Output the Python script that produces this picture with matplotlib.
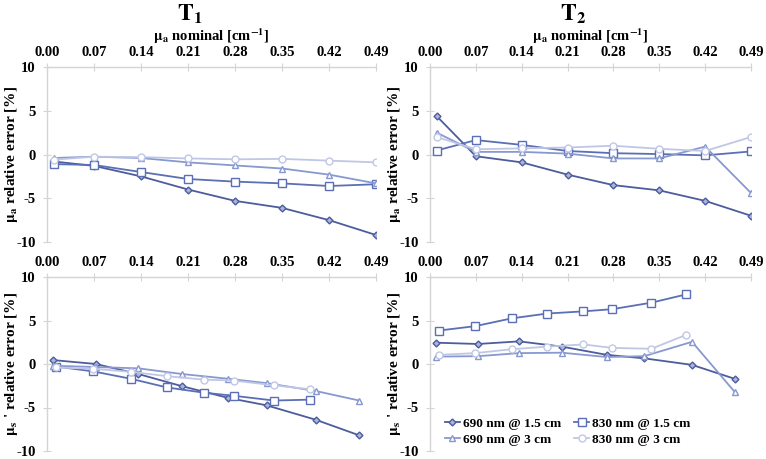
import matplotlib
matplotlib.use('Agg')
import matplotlib.pyplot as plt

plt.rcParams['font.family'] = ['Liberation Serif', 'DejaVu Serif']
plt.rcParams['font.weight'] = 'bold'
plt.rcParams['mathtext.fontset'] = 'stix'
plt.rcParams['axes.unicode_minus'] = False

# x positions
x_mua = [0.01, 0.07, 0.14, 0.21, 0.28, 0.35, 0.42, 0.49]
x_mus_690 = [0.009, 0.073, 0.136, 0.201, 0.27, 0.327, 0.40, 0.465]
x_mus_830 = [0.014, 0.069, 0.125, 0.179, 0.234, 0.278, 0.338, 0.391]
tick_vals = [0.00, 0.07, 0.14, 0.21, 0.28, 0.35, 0.42, 0.49]
tick_labels = ['0.00', '0.07', '0.14', '0.21', '0.28', '0.35', '0.42', '0.49']

# T1 mua relative error
t1_mua_690_15 = [-0.8, -1.3, -2.5, -4.0, -5.3, -6.1, -7.5, -9.2]
t1_mua_830_15 = [-1.1, -1.2, -2.0, -2.8, -3.1, -3.3, -3.6, -3.4]
t1_mua_690_3 = [-0.4, -0.25, -0.4, -0.9, -1.25, -1.6, -2.3, -3.3]
t1_mua_830_3 = [-0.6, -0.25, -0.3, -0.45, -0.55, -0.5, -0.7, -0.9]

# T2 mua relative error
t2_mua_690_15 = [4.4, -0.2, -0.9, -2.3, -3.5, -4.1, -5.3, -7.0]
t2_mua_830_15 = [0.45, 1.65, 1.1, 0.4, 0.15, 0.05, -0.1, 0.35]
t2_mua_690_3 = [2.5, 0.3, 0.3, 0.1, -0.45, -0.45, 0.9, -4.4]
t2_mua_830_3 = [2.0, 0.6, 0.7, 0.8, 1.0, 0.65, 0.4, 2.0]

# T1 mus' relative error
t1_mus_690_15 = [0.45, 0.0, -1.15, -2.55, -3.9, -4.75, -6.4, -8.2]
t1_mus_830_15 = [-0.3, -0.85, -1.7, -2.7, -3.3, -3.65, -4.2, -4.1]
t1_mus_690_3 = [-0.2, -0.35, -0.5, -1.15, -1.7, -2.2, -3.1, -4.2]
t1_mus_830_3 = [-0.4, -0.55, -0.9, -1.4, -1.8, -1.9, -2.45, -2.9]

# T2 mus' relative error
t2_mus_690_15 = [2.45, 2.3, 2.6, 2.0, 1.05, 0.65, -0.1, -1.7]
t2_mus_830_15 = [3.85, 4.35, 5.25, 5.8, 6.05, 6.3, 7.05, 8.0]
t2_mus_690_3 = [0.85, 0.9, 1.25, 1.3, 0.8, 0.9, 2.55, -3.2]
t2_mus_830_3 = [1.05, 1.25, 1.7, 2.0, 2.25, 1.85, 1.75, 3.35]

labels = ['690 nm @ 1.5 cm', '830 nm @ 1.5 cm', '690 nm @ 3 cm', '830 nm @ 3 cm']
colors = ['#4d5c9c', '#5a6fb5', '#8898d0', '#c0c7e6']
markers = ['D', 's', '^', 'o']
msizes = [3.5, 5.5, 5, 5]
grey = '#d4d4d4'

fig = plt.figure(figsize=(7.66, 4.59), dpi=100)
W, H = 766.0, 459.0
ax_tl = fig.add_axes([47 / W, 1 - 242 / H, 329 / W, 175 / H])
ax_tr = fig.add_axes([430 / W, 1 - 242 / H, 321 / W, 175 / H])
ax_bl = fig.add_axes([47 / W, 1 - 451 / H, 329 / W, 174 / H])
ax_br = fig.add_axes([430 / W, 1 - 451 / H, 321 / W, 174 / H])

panels = [
    (ax_tl, [x_mua] * 4, [t1_mua_690_15, t1_mua_830_15, t1_mua_690_3, t1_mua_830_3]),
    (ax_tr, [x_mua] * 4, [t2_mua_690_15, t2_mua_830_15, t2_mua_690_3, t2_mua_830_3]),
    (ax_bl, [x_mus_690, x_mus_830, x_mus_690, x_mus_830],
     [t1_mus_690_15, t1_mus_830_15, t1_mus_690_3, t1_mus_830_3]),
    (ax_br, [x_mus_690, x_mus_830, x_mus_690, x_mus_830],
     [t2_mus_690_15, t2_mus_830_15, t2_mus_690_3, t2_mus_830_3]),
]

handles = []
for ax, xs, ys in panels:
    handles = []
    for i in range(4):
        mfc = '#aab4dc' if i == 0 else 'white'
        h, = ax.plot(xs[i], ys[i], color=colors[i], marker=markers[i], ms=msizes[i],
                     mfc=mfc, mec=colors[i], mew=1.0, lw=1.3, label=labels[i])
        handles.append(h)
    ax.set_xlim(0, 0.49)
    ax.set_ylim(-10, 10)
    ax.set_yticks([-10, -5, 0, 5, 10])
    ax.set_xticks(tick_vals)
    ax.set_xticklabels(tick_labels)
    ax.xaxis.tick_top()
    for s in ['bottom', 'right']:
        ax.spines[s].set_visible(False)
    for s in ['top', 'left']:
        ax.spines[s].set_color(grey)
        ax.spines[s].set_linewidth(1.0)
    ax.tick_params(axis='both', direction='inout', length=6, color=grey,
                   labelsize=10.5, pad=3)
    ax.tick_params(axis='y', pad=5)
    for lab in ax.get_xticklabels() + ax.get_yticklabels():
        lab.set_fontweight('bold')

for ax in [ax_tl, ax_tr]:
    ax.xaxis.set_label_position('top')
    ax.set_xlabel(r'$\mathbf{\mu_a}$ nominal [cm$^{\mathbf{-1}}$]', fontsize=10.5,
                  fontweight='bold', labelpad=3)
    ax.set_ylabel(r'$\mathbf{\mu_a}$ relative error [%]', fontsize=11,
                  fontweight='bold')
for ax in [ax_bl, ax_br]:
    ax.set_ylabel(r"$\mathbf{\mu_s}$ ' relative error [%]", fontsize=11,
                  fontweight='bold')
ax_tl.yaxis.set_label_coords(-27 / 329, 0.5)
ax_bl.yaxis.set_label_coords(-27 / 329, 0.5)
ax_tr.yaxis.set_label_coords(-27 / 321, 0.5)
ax_br.yaxis.set_label_coords(-27 / 321, 0.5)

fig.text(190 / W, 1 - 14 / H, r'$\mathbf{T_1}$', fontsize=17, ha='center', va='center')
fig.text(573 / W, 1 - 14 / H, r'$\mathbf{T_2}$', fontsize=17, ha='center', va='center')

# row-wise legend order for a 2-column legend
order = [0, 2, 1, 3]
ax_br.legend([handles[k] for k in order], [labels[k] for k in order],
             loc='lower left', bbox_to_anchor=(0.03, 0.0), ncol=2, frameon=False,
             handlelength=1.15, handletextpad=0.2, columnspacing=1.0,
             labelspacing=0.3, borderaxespad=0.0, prop={'weight': 'bold', 'size': 9.5})

fig.savefig('out.png', dpi=100)
